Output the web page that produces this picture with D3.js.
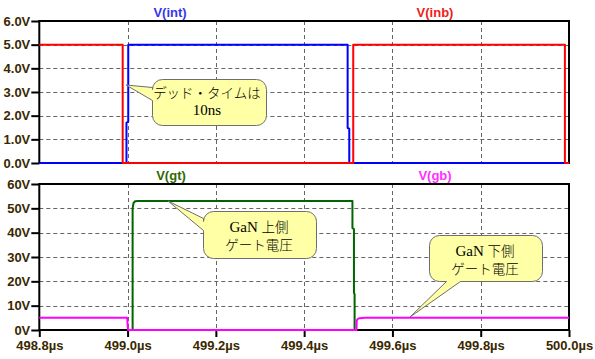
<!DOCTYPE html>
<html>
<head>
<meta charset="utf-8">
<script src="https://cdn.jsdelivr.net/npm/d3@7"></script>
<style>
  body { margin: 0; background: #fff; }
  svg { display: block; }
  .axis text { font-family: "Liberation Sans", Arial, sans-serif; font-weight: bold; font-size: 13px; fill: #3a2800; }
  .axis line { stroke: #000; stroke-width: 2; }
  .axis path { display: none; }
</style>
</head>
<body>
<div id="chart"></div>
<script>
// time ticks (µs)
const xTicks = [498.8, 499.0, 499.2, 499.4, 499.6, 499.8, 500.0];
const topTicks = [0, 1, 2, 3, 4, 5, 6];
const botTicks = [0, 10, 20, 30, 40, 50, 60];

// V(int) : [t (µs), V]
const vInt = [[498.8, 0], [498.9975, 0], [498.9975, 1.7], [499.0015, 1.75], [499.0015, 5],
  [499.4985, 5], [499.4985, 1.48], [499.5022, 1.45], [499.5022, 0], [500.0, 0]];
// V(inb)
const vInb = [[498.8, 5], [498.9889, 5], [498.9889, 0], [499.5112, 0], [499.5112, 5],
  [499.9907, 5], [499.9907, 0], [500.0, 0]];
// V(gt)
const vGt = [[499.0114, 0], [499.0114, 50], [499.0135, 52.2], [499.017, 52.9], [499.024, 53],
  [499.5094, 53], [499.5094, 41.9], [499.5128, 41.5], [499.5128, 15.2], [499.5143, 14.8], [499.5143, 0]];
// V(gb)
const vGb = [[498.8, 5.05], [498.999, 5.05], [499.001, 0], [499.5187, 0], [499.519, 3.8],
  [499.521, 4.5], [499.525, 4.85], [499.5375, 5.05], [500.0, 5.05]];

const W = 595, H = 359;
const svg = d3.select("#chart").append("svg").attr("width", W).attr("height", H);

const x = d3.scaleLinear().domain([498.8, 500.0]).range([39.3, 569]);
const yTop = d3.scaleLinear().domain([0, 6]).range([163, 21]);
const yBot = d3.scaleLinear().domain([0, 60]).range([330, 184]);

function grid(y, yt) {
  const g = svg.append("g").attr("stroke", "#666").attr("stroke-width", 1).attr("stroke-dasharray", "4,3");
  g.selectAll(".h").data(yt.slice(1, -1)).join("line")
    .attr("x1", x.range()[0]).attr("x2", x.range()[1])
    .attr("y1", d => Math.round(y(d)) + 0.5).attr("y2", d => Math.round(y(d)) + 0.5);
  g.selectAll(".v").data(xTicks.slice(1, -1)).join("line")
    .attr("y1", y.range()[1]).attr("y2", y.range()[0])
    .attr("x1", d => Math.round(x(d)) + 0.5).attr("x2", d => Math.round(x(d)) + 0.5);
}

function frame(y) {
  svg.append("rect")
    .attr("x", x.range()[0]).attr("y", y.range()[1])
    .attr("width", x.range()[1] - x.range()[0]).attr("height", y.range()[0] - y.range()[1])
    .attr("fill", "none").attr("stroke", "#000").attr("stroke-width", 2);
}

const line = y => d3.line().x(d => x(d[0])).y(d => y(d[1]));
function trace(data, y, color) {
  svg.append("path").datum(data).attr("d", line(y))
    .attr("fill", "none").attr("stroke", color).attr("stroke-width", 2).attr("stroke-linejoin", "round");
}

// top pane
grid(yTop, topTicks);
frame(yTop);
svg.append("g").attr("class", "axis").attr("transform", "translate(" + x.range()[0] + ",0)")
  .call(d3.axisLeft(yTop).tickValues(topTicks).tickSize(8).tickPadding(1).tickFormat(d => d.toFixed(1) + "V"));
trace(vInt, yTop, "#0000ff");
trace(vInb, yTop, "#ff0000");

// bottom pane
grid(yBot, botTicks);
trace(vGt, yBot, "#006400");
frame(yBot);
svg.append("g").attr("class", "axis").attr("transform", "translate(" + x.range()[0] + ",0)")
  .call(d3.axisLeft(yBot).tickValues(botTicks).tickSize(8).tickPadding(1).tickFormat(d => d + "V"));
svg.append("g").attr("class", "axis").attr("transform", "translate(0," + yBot.range()[0] + ")")
  .call(d3.axisBottom(x).tickValues(xTicks).tickSize(7).tickPadding(4).tickFormat(d => d.toFixed(1) + "µs"));
trace(vGb, yBot, "#ff00ff");

// trace names
const names = [
  {t: "V(int)", x: 170, y: 17, c: "#3636ee"},
  {t: "V(inb)", x: 435, y: 17, c: "#ee2020"},
  {t: "V(gt)", x: 171, y: 180, c: "#2e6a00"},
  {t: "V(gb)", x: 435, y: 180, c: "#ff30ff"}
];
svg.selectAll(".name").data(names).join("text")
  .attr("x", d => d.x).attr("y", d => d.y).attr("text-anchor", "middle")
  .attr("font-family", "Liberation Sans, Arial, sans-serif").attr("font-weight", "bold").attr("font-size", 13)
  .attr("fill", d => d.c).text(d => d.t);

// callouts: box, wedge attach points, tip, text lines (latin runs set in serif)
function callout(b, a1, a2, tip, lines, cx, baselines) {
  const r = 10;
  const p = d3.path();
  const {x0, y0, x1, y1, side} = b;
  p.moveTo(x0 + r, y0);
  p.lineTo(x1 - r, y0); p.arcTo(x1, y0, x1, y0 + r, r);
  p.lineTo(x1, y1 - r); p.arcTo(x1, y1, x1 - r, y1, r);
  if (side === "bottom") { p.lineTo(a2[0], y1); p.lineTo(tip[0], tip[1]); p.lineTo(a1[0], y1); }
  p.lineTo(x0 + r, y1); p.arcTo(x0, y1, x0, y1 - r, r);
  if (side === "left") { p.lineTo(x0, a2[1]); p.lineTo(tip[0], tip[1]); p.lineTo(x0, a1[1]); }
  p.lineTo(x0, y0 + r); p.arcTo(x0, y0, x0 + r, y0, r);
  p.closePath();
  svg.append("path").attr("d", p.toString()).attr("fill", "#ffffa6").attr("stroke", "#6e6e6e").attr("stroke-width", 1);
  const t = svg.append("g").selectAll("text").data(lines).join("text")
    .attr("x", cx).attr("y", (d, i) => baselines[i]).attr("text-anchor", "middle")
    .attr("font-family", "Noto Sans CJK JP, sans-serif").attr("font-weight", 300).attr("fill", "#000");
  t.selectAll("tspan").data(d => d.split(/([A-Za-z0-9 ]+)/).filter(s => s.length)).join("tspan")
    .attr("font-family", s => /^[A-Za-z0-9 ]+$/.test(s) ? "Liberation Serif, serif" : null)
    .attr("font-size", s => /^[A-Za-z0-9 ]+$/.test(s) ? 15 : 13.5)
    .text(s => s);
}

callout({x0: 152.5, y0: 79.5, x1: 266.5, y1: 125.5, side: "left"}, [0, 87.5], [0, 100.5], [126, 85],
  ["デッド・タイムは", "10ns"], 207, [98, 115]);
callout({x0: 203.5, y0: 211.5, x1: 316.5, y1: 258.5, side: "left"}, [0, 218.5], [0, 230.5], [168, 201],
  ["GaN 上側", "ゲート電圧"], 259, [232, 250]);
callout({x0: 429.5, y0: 235.5, x1: 542.5, y1: 281.5, side: "bottom"}, [446.5, 0], [460.5, 0], [410, 317],
  ["GaN 下側", "ゲート電圧"], 485, [256, 274]);
</script>
</body>
</html>
